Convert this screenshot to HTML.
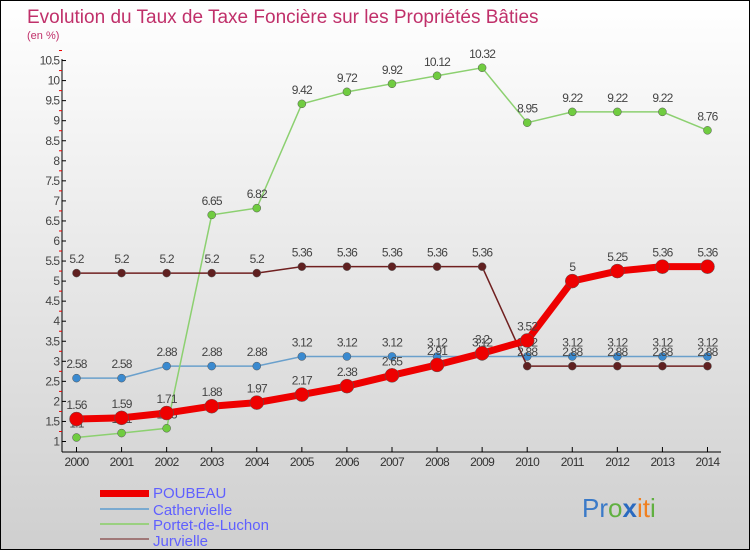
<!DOCTYPE html>
<html><head><meta charset="utf-8"><style>
body{margin:0;}
#wrap{position:relative;width:748px;height:548px;border:1px solid #000;background:linear-gradient(#ffffff,#cfcfcf);overflow:hidden;font-family:"Liberation Sans",sans-serif;}
</style></head><body>
<div id="wrap">
<svg id="svg" width="748" height="548" xmlns="http://www.w3.org/2000/svg">
<text x="26" y="22" font-size="19" fill="#c0306a">Evolution du Taux de Taxe Foncière sur les Propriétés Bâties</text>
<text x="26" y="38" font-size="11" fill="#c0306a">(en %)</text>
<g id="axes"></g><g id="series"></g>
<g>
<rect x="99" y="489" width="49" height="7" fill="#ee0000"/>
<text x="152" y="497" font-size="15" fill="#6060ff">POUBEAU</text>
<rect x="99" y="507" width="49" height="2" fill="#7aaad0"/>
<text x="152" y="514" font-size="15" fill="#6060ff">Cathervielle</text>
<rect x="99" y="522" width="49" height="2" fill="#9ad080"/>
<text x="152" y="529" font-size="15" fill="#6060ff">Portet-de-Luchon</text>
<rect x="99" y="537" width="49" height="2" fill="#a07878"/>
<text x="152" y="545" font-size="15" fill="#6060ff">Jurvielle</text>
</g>
<text x="581" y="516" font-size="26"><tspan fill="#3a7ac8">Pr</tspan><tspan fill="#60b040">o</tspan><tspan fill="#2a6ac0" font-weight="bold">x</tspan><tspan fill="#f08020">it</tspan><tspan fill="#60b040">i</tspan></text>
</svg></div>
<script>
const years=[2000,2001,2002,2003,2004,2005,2006,2007,2008,2009,2010,2011,2012,2013,2014];
const poubeau=[1.56,1.59,1.71,1.88,1.97,2.17,2.38,2.65,2.91,3.2,3.52,5,5.25,5.36,5.36];
const cathervielle=[2.58,2.58,2.88,2.88,2.88,3.12,3.12,3.12,3.12,3.12,3.12,3.12,3.12,3.12,3.12];
const portet=[1.1,1.21,1.33,6.65,6.82,9.42,9.72,9.92,10.12,10.32,8.95,9.22,9.22,9.22,8.76];
const jurvielle=[5.2,5.2,5.2,5.2,5.2,5.36,5.36,5.36,5.36,5.36,2.88,2.88,2.88,2.88,2.88];
const yTicks=[1,1.5,2,2.5,3,3.5,4,4.5,5,5.5,6,6.5,7,7.5,8,8.5,9,9.5,10,10.5];
const NS="http://www.w3.org/2000/svg";
const X=i=>75.5+i*45.07;
const Y=v=>440.5-(v-1)*40.1;
function mk(t,a,p){const e=document.createElementNS(NS,t);for(const k in a)e.setAttribute(k,a[k]);p.appendChild(e);return e;}
const ax=document.getElementById('axes');
let l=mk('line',{x1:61,y1:58,x2:61,y2:451,stroke:'#000','stroke-width':1},ax);


l=mk('line',{x1:61,y1:451,x2:720,y2:451,stroke:'#000','stroke-width':1},ax);


yTicks.forEach(v=>{
 mk('line',{x1:61,y1:Y(v),x2:65,y2:Y(v),stroke:'#000'},ax);
 mk('line',{x1:58,y1:Y(v+0.25),x2:61,y2:Y(v+0.25),stroke:'#e00'},ax);
 const t=mk('text',{x:58,y:Y(v)+4,'font-size':12,'text-anchor':'end',fill:'#444','letter-spacing':'-1'},ax);
 
 
 t.textContent=v;
});
years.forEach((y,i)=>{
 mk('line',{x1:X(i),y1:446,x2:X(i),y2:451,stroke:'#000'},ax);
 const t=mk('text',{x:X(i),y:465,'font-size':12,'text-anchor':'middle',fill:'#333','letter-spacing':'-0.7'},ax);
 
 
 t.textContent=y;
});
const sg=document.getElementById('series');
function series(name,data,color,dot,w,r){
 const g=mk('g',{},sg);
 
 
 const p=mk('polyline',{points:data.map((v,i)=>X(i)+','+Y(v)).join(' '),fill:'none',stroke:color,'stroke-width':w},g);
 
 
 data.forEach((v,i)=>{
  const c=mk('circle',{cx:X(i),cy:Y(v),r:r,fill:dot,stroke:'#555','stroke-width':0.5},g);
  
  
  const t=mk('text',{x:X(i),y:Y(v)-10,'font-size':12,'text-anchor':'middle',fill:'#444','letter-spacing':'-0.8'},g);
  
  
  t.textContent=v;
 });
}
series('cathervielle',cathervielle,'#6aa0cc','#3a8ad0',1.5,4);
series('portet',portet,'#8cd070','#70cc40',1.5,4);
series('jurvielle',jurvielle,'#702020','#602020',1.5,4);
series('poubeau',poubeau,'#ee0000','#ee0000',7,7);
</script>
</body></html>
